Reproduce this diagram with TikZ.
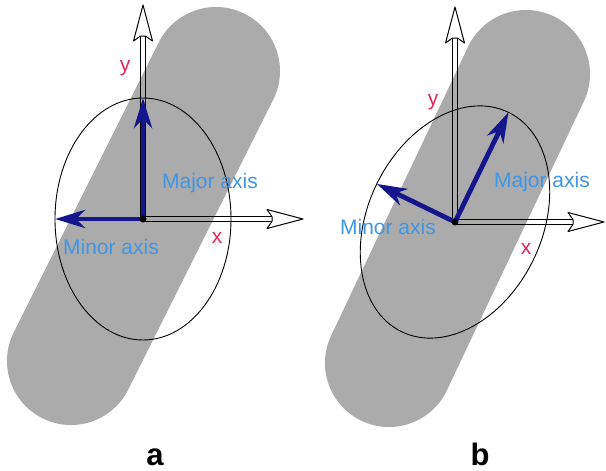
\documentclass[tikz,border=0pt]{standalone}
\usepackage{fontspec}
\setmainfont{Liberation Sans}
\usetikzlibrary{arrows.meta,calc}
\definecolor{capsulegray}{RGB}{171,171,171}
\definecolor{vecnavy}{RGB}{22,22,140}
\definecolor{axblue}{RGB}{64,150,228}
\definecolor{axred}{RGB}{226,40,90}
\newcommand\AxisArrow[3]{% #1 origin, #2 rotation, #3 length
  \begin{scope}[shift={(#1)}, rotate=#2]
    \draw[axisline] (0,-2.4) -- (#3-31,-2.4) (0,2.4) -- (#3-31,2.4);
    \draw[axisline, fill=white, line join=round] (#3-31,-2.4) -- (#3-36,-9.5) -- (#3,0) -- (#3-36,9.5) -- (#3-31,2.4) -- cycle;
  \end{scope}}
\begin{document}
\begin{tikzpicture}[x=1pt,y=-1pt,
  capsulestyle/.style={line width=128pt, line cap=round, draw=capsulegray},
  ellipsestyle/.style={draw=black, line width=0.9pt},
  vec/.style={draw=vecnavy, line width=4.8pt, line join=round, -{Stealth[length=30pt,width=18pt,inset=9pt]}},
  lbl/.style={font=\fontsize{21}{25}\selectfont, text=axblue, inner sep=0pt},
  coordlbl/.style={font=\fontsize{21}{25}\selectfont, text=axred, inner sep=0pt},
  panel/.style={font=\bfseries\fontsize{31}{36}\selectfont, inner sep=0pt, anchor=base},
  axisline/.style={line width=1pt, draw=black}]
\useasboundingbox (0,0) rectangle (606,471);
% origins and key points
\coordinate (Oa) at (143,219);
\coordinate (Ob) at (455,222);
\coordinate (Ca1) at (216,71);
\coordinate (Ca2) at (71,361);
\coordinate (Cb1) at (526,74);
\coordinate (Cb2) at (389,363);
\coordinate (MajA) at (143,98);
\coordinate (MinA) at (55,219);
\coordinate (MajB) at (508.5,112.3);
\coordinate (MinB) at (376.8,183.9);
% capsules
\draw[capsulestyle] (Ca1) -- (Ca2);
\draw[capsulestyle] (Cb1) -- (Cb2);
% ellipses
\draw[ellipsestyle] (Oa) ellipse [x radius=88, y radius=121];
\draw[ellipsestyle, rotate around={64:(Ob)}] (Ob) ellipse [x radius=122, y radius=87];
% axes
\AxisArrow{Oa}{0}{160}
\AxisArrow{Oa}{90}{214}
\AxisArrow{Ob}{0}{149}
\AxisArrow{Ob}{90}{215}
% principal axis vectors
\draw[vec] (Oa) -- (MajA);
\draw[vec] (Oa) -- (MinA);
\draw[vec] (Ob) -- (MajB);
\draw[vec] (Ob) -- (MinB);
\fill[black] (Oa) circle [radius=3.5];
\fill[black] (Ob) circle [radius=3.5];
% labels
\node[coordlbl] (ya) at (125,68) {y};
\node[coordlbl] (xa) at (217,238) {x};
\node[lbl] (majla) at (210,183) {Major axis};
\node[lbl] (minla) at (111,247) {Minor axis};
\node[coordlbl] (yb) at (433,102) {y};
\node[coordlbl] (xb) at (526,249) {x};
\node[lbl] (majlb) at (542,182) {Major axis};
\node[lbl] (minlb) at (388,227) {Minor axis};
\node[panel] (pa) at (155,465) {a};
\node[panel] (pb) at (480,465) {b};
\end{tikzpicture}
\end{document}
